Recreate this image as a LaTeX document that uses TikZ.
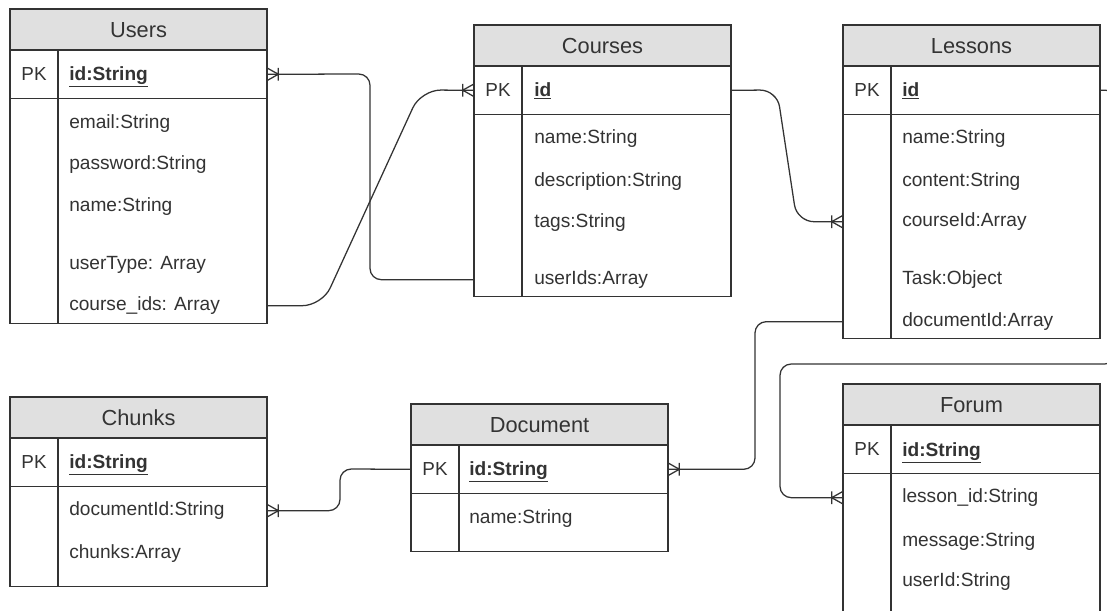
\documentclass[tikz,border=0pt]{standalone}
\usepackage{fontspec}
\setmainfont{Liberation Sans}
\usetikzlibrary{arrows.meta}

\definecolor{ink}{HTML}{333333}
\definecolor{headgray}{HTML}{E0E0E0}

% one-or-many end: crow's foot on the entity side, bar behind it
\pgfdeclarearrow{
  name=Crow,
  setup code={
    \pgfarrowssettipend{0pt}
    \pgfarrowssetlineend{0pt}
    \pgfarrowssetbackend{-8pt}
    \pgfarrowssetvisualbackend{-8pt}
    \pgfarrowshullpoint{0pt}{4.5pt}
    \pgfarrowshullpoint{0pt}{-4.5pt}
    \pgfarrowshullpoint{-8pt}{0pt}
  },
  drawing code={
    \pgfpathmoveto{\pgfqpoint{0pt}{4.5pt}}
    \pgfpathlineto{\pgfqpoint{-8pt}{0pt}}
    \pgfpathlineto{\pgfqpoint{0pt}{-4.5pt}}
    \pgfpathmoveto{\pgfqpoint{-8pt}{4.5pt}}
    \pgfpathlineto{\pgfqpoint{-8pt}{-4.5pt}}
    \pgfusepathqstroke
  }
}

% table frame: title bar, key row, body and the PK column
\newcommand{\entity}[5]{%
  \node[hdr] (#1) at (#2,#3) {};
  \node[title] (#1-title) at (#1.center) {#4};
  \node[keyrow] (#1-pk) at (#1.south) {};
  \node[bodyrow,minimum height=#5] (#1-body) at (#1-pk.south) {};
  \draw[frame] ([xshift=1.2cm]#1-pk.north west) -- ([xshift=1.2cm]#1-body.south west);
  \node[pk] (#1-key) at ([xshift=0.6cm]#1-pk.west) {PK};
}

\begin{document}
\begin{tikzpicture}[x=0.025cm,y=-0.025cm,
  frame/.style={draw=ink,line width=1pt},
  hdr/.style={frame,fill=headgray,anchor=north west,minimum width=6.425cm,minimum height=1.025cm,inner sep=0pt,outer sep=0pt},
  title/.style={inner sep=0pt,yshift=-1.5pt,text=ink,text height=11pt,text depth=2pt,font=\fontsize{15.5}{18}\selectfont},
  keyrow/.style={frame,fill=white,anchor=north,minimum width=6.425cm,minimum height=1.2125cm,inner sep=0pt,outer sep=0pt},
  bodyrow/.style={frame,fill=white,anchor=north,minimum width=6.425cm,inner sep=0pt,outer sep=0pt},
  pk/.style={inner sep=0pt,yshift=-1.2pt,text=ink,text height=9.5pt,text depth=2.5pt,font=\fontsize{13.4}{16}\selectfont},
  field/.style={anchor=west,inner sep=0pt,yshift=-1.2pt,text=ink,text height=9.5pt,text depth=2.5pt,font=\fontsize{13.6}{16}\selectfont},
  rel/.style={draw=ink,line width=0.9pt,rounded corners=8pt}
]
\path[use as bounding box,fill=white] (0,0) rectangle (1107,611);
\clip (0,0) rectangle (1107,611);

% tables
\entity{users}{10}{9}{Users}{5.625cm}
\entity{courses}{474}{25}{Courses}{4.55cm}
\entity{lessons}{843}{25}{Lessons}{5.6cm}
\entity{chunks}{10}{397}{Chunks}{2.5cm}
\entity{document}{411}{404}{Document}{1.45cm}
\entity{forum}{843}{384}{Forum}{5cm}

% Users
\node[field] (users-id) at (69,74) {\underline{\textbf{id:String}}};
\node[field] (users-email) at (69,122) {email:String};
\node[field] (users-password) at (69,163) {password:String};
\node[field] (users-name) at (69,205) {name:String};
\node[field] (users-usertype) at (69,263) {userType: Array};
\node[field] (users-courseids) at (69,304) {course\_ids: Array};

% Courses
\node[field] (courses-id) at (534,90) {\underline{\textbf{id}}};
\node[field] (courses-name) at (534,137) {name:String};
\node[field] (courses-description) at (534,180) {description:String};
\node[field] (courses-tags) at (534,221) {tags:String};
\node[field] (courses-userids) at (534,278) {userIds:Array};

% Lessons
\node[field] (lessons-id) at (902,90) {\underline{\textbf{id}}};
\node[field] (lessons-name) at (902,137) {name:String};
\node[field] (lessons-content) at (902,180) {content:String};
\node[field] (lessons-courseid) at (902,220) {courseId:Array};
\node[field] (lessons-task) at (902,278) {Task:Object};
\node[field] (lessons-documentid) at (902,320) {documentId:Array};

% Chunks
\node[field] (chunks-id) at (69,462) {\underline{\textbf{id:String}}};
\node[field] (chunks-documentid) at (69,509) {documentId:String};
\node[field] (chunks-chunks) at (69,552) {chunks:Array};

% Document
\node[field] (document-id) at (469,469) {\underline{\textbf{id:String}}};
\node[field] (document-name) at (469,517) {name:String};

% Forum
\node[field] (forum-id) at (902,450) {\underline{\textbf{id:String}}};
\node[field] (forum-lessonid) at (902,496) {lesson\_id:String};
\node[field] (forum-message) at (902,540) {message:String};
\node[field] (forum-userid) at (902,580) {userId:String};

% relations
\draw[rel,Crow-] (users-pk.east) -- (370,74) |- (courses-body.west |- courses-userids);
\draw[rel,-Crow,rounded corners=14pt] (users-body.east |- users-courseids) -- ++(55,0) -- (421,90) -- (courses-pk.west);
\draw[rel,Crow-,rounded corners=12pt] (lessons-body.west |- lessons-courseid) -- ++(-46,0) -- (777,90) -- (courses-pk.east);
\draw[rel,-Crow] (lessons-pk.east) -- ++(17,0) -- (1116,364) -- (780,364) |- (forum-body.west |- forum-lessonid);
\draw[rel,-Crow] (lessons-body.west |- lessons-documentid) -- ++(-88,0) |- (document-pk.east);
\draw[rel,-Crow] (document-pk.west) -- (340,469) |- (chunks-body.east |- chunks-documentid);
\end{tikzpicture}
\end{document}
